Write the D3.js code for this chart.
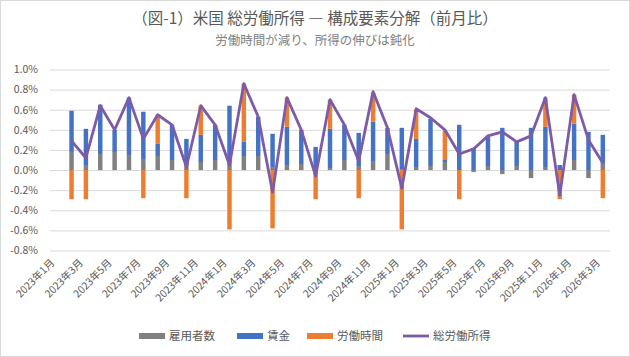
<!DOCTYPE html>
<html><head><meta charset="utf-8">
<script src="https://cdn.jsdelivr.net/npm/d3@7/dist/d3.min.js"></script>
<style>
html,body{margin:0;padding:0;background:#fff;}
svg{display:block;font-family:"Noto Sans CJK JP","Noto Sans",sans-serif;}
</style></head>
<body>
<svg id="chart" width="630" height="357"></svg>
<script>
const months = ["2023年1月","2023年2月","2023年3月","2023年4月","2023年5月","2023年6月","2023年7月","2023年8月","2023年9月","2023年10月","2023年11月","2023年12月",
"2024年1月","2024年2月","2024年3月","2024年4月","2024年5月","2024年6月","2024年7月","2024年8月","2024年9月","2024年10月","2024年11月","2024年12月",
"2025年1月","2025年2月","2025年3月","2025年4月","2025年5月","2025年6月","2025年7月","2025年8月","2025年9月","2025年10月","2025年11月","2025年12月",
"2026年1月","2026年2月","2026年3月"];
const tickLabels = ["2023年1月","2023年3月","2023年5月","2023年7月","2023年9月","2023年11月","2024年1月","2024年3月","2024年5月","2024年7月","2024年9月","2024年11月",
"2025年1月","2025年3月","2025年5月","2025年7月","2025年9月","2025年11月","2026年1月","2026年3月"];
// 雇用者数
const employment = [null,0.18,0.05,0.16,0.18,0.15,0.11,0.14,0.10,0.05,0.08,0.10,0.06,0.14,0.14,0.03,0.05,0.06,0.00,0.02,0.10,0.04,0.09,0.16,0.01,0.03,0.04,0.08,0.00,-0.02,0.04,-0.04,0.04,-0.08,0.03,0.00,0.10,-0.08,0.07];
// 賃金
const wages = [null,0.41,0.36,0.49,0.22,0.57,0.47,0.12,0.35,0.26,0.27,0.35,0.58,0.14,0.39,0.33,0.38,0.34,0.23,0.39,0.35,0.33,0.39,0.26,0.41,0.28,0.47,0.02,0.45,0.22,0.29,0.42,0.24,0.42,0.40,0.05,0.36,0.38,0.28];
// 労働時間
const hours = [null,-0.29,-0.29,0,0,0,-0.28,0.29,0,-0.28,0.29,0,-0.59,0.58,0,-0.58,0.29,0,-0.29,0.29,0,-0.28,0.29,0,-0.59,0.29,0,0.29,-0.29,0,0,0,0,0,0.29,-0.29,0.29,0,-0.28];
// 総労働所得
const total = [null,0.29,0.12,0.64,0.40,0.72,0.31,0.55,0.45,0.03,0.64,0.45,0.05,0.86,0.53,-0.22,0.72,0.40,-0.06,0.70,0.45,0.09,0.78,0.42,-0.18,0.61,0.52,0.40,0.16,0.21,0.34,0.38,0.28,0.34,0.72,-0.25,0.75,0.30,0.07];
const yTicks = [1.0,0.8,0.6,0.4,0.2,0.0,-0.2,-0.4,-0.6,-0.8];
const seriesNames = ["雇用者数","賃金","労働時間","総労働所得"];
const colors = ["#808080","#4472C4","#ED7D31","#7E5BA8"];

const svg = d3.select("#chart");
const W = 630, H = 357;
svg.append("rect").attr("x",0.5).attr("y",0.5).attr("width",W-1).attr("height",H-1)
  .attr("fill","#fff").attr("stroke","#D9D9D9");

const x = d3.scaleBand().domain(months).range([50,610]).paddingInner(0.69).paddingOuter(0.345);
const y = d3.scaleLinear().domain([-0.8,1.0]).range([250.5,69.5]);

// title
svg.append("text").attr("x",315).attr("y",24).attr("text-anchor","middle")
  .attr("font-size",15.5).attr("fill","#595959").text("（図-1）米国 総労働所得 ― 構成要素分解（前月比）");
svg.append("text").attr("x",315).attr("y",45).attr("text-anchor","middle")
  .attr("font-size",12.5).attr("fill","#808080").text("労働時間が減り、所得の伸びは鈍化");

// grid
const yAxis = d3.axisLeft(y).tickValues(yTicks).tickSize(-560).tickFormat(d=>d.toFixed(1)+"%");
const gy = svg.append("g").attr("transform","translate(50,0)").call(yAxis);
gy.select(".domain").remove();
gy.selectAll(".tick line").attr("stroke","#D9D9D9").attr("stroke-width",1);
gy.selectAll(".tick text").attr("x",-12).attr("fill","#595959").attr("font-size",10.5)
  .style("font-family","'Noto Sans CJK JP',sans-serif");

// stacked bars
const stacks = [employment,wages,hours];
months.forEach((m,i)=>{
  let pos=0, neg=0;
  stacks.forEach((arr,s)=>{
    const v = arr[i];
    if (v==null || v===0) return;
    let y0,y1;
    if (v>0){ y0=pos; y1=pos+v; pos=y1; } else { y0=neg; y1=neg+v; neg=y1; }
    svg.append("rect").attr("x",x(m)).attr("width",x.bandwidth())
      .attr("y",y(Math.max(y0,y1))).attr("height",Math.abs(y(y0)-y(y1)))
      .attr("fill",colors[s]);
  });
});

// line
const line = d3.line().defined(d=>d[1]!=null).x(d=>x(d[0])+x.bandwidth()/2).y(d=>y(d[1]));
svg.append("path").datum(months.map((m,i)=>[m,total[i]]))
  .attr("d",line).attr("fill","none").attr("stroke",colors[3]).attr("stroke-width",2.8)
  .attr("stroke-linejoin","round");

// x axis labels
const xAxis = d3.axisBottom(x).tickValues(tickLabels).tickSize(0);
const gx = svg.append("g").attr("transform","translate(0,250.5)").call(xAxis);
gx.select(".domain").remove();
gx.selectAll(".tick text").attr("fill","#595959").attr("font-size",10.3)
  .attr("text-anchor","end").attr("dy",0).attr("y",0)
  .attr("transform","translate(-2,13) rotate(-45)")
  .style("font-family","'Noto Sans CJK JP',sans-serif");

// legend
const legend = [
  {name:seriesNames[0],c:colors[0],type:"bar",x:139},
  {name:seriesNames[1],c:colors[1],type:"bar",x:237},
  {name:seriesNames[2],c:colors[2],type:"bar",x:307},
  {name:seriesNames[3],c:colors[3],type:"line",x:403}
];
const lg = svg.append("g");
legend.forEach(d=>{
  if(d.type==="bar") lg.append("rect").attr("x",d.x).attr("y",333).attr("width",26).attr("height",6).attr("fill",d.c);
  else lg.append("line").attr("x1",d.x).attr("x2",d.x+26).attr("y1",336).attr("y2",336).attr("stroke",d.c).attr("stroke-width",2.8);
  lg.append("text").attr("x",d.x+30).attr("y",340).attr("font-size",11.5).attr("fill","#595959").text(d.name);
});
</script>
</body></html>
